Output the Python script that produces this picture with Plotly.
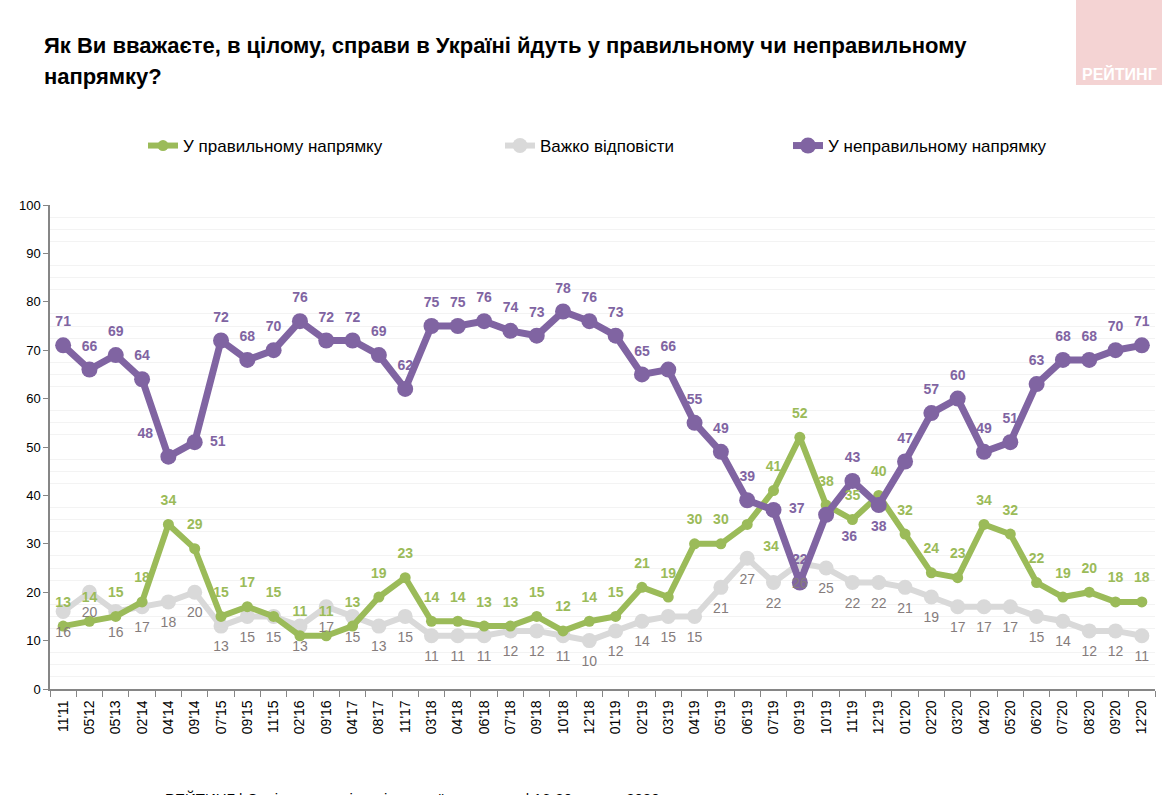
import plotly.graph_objects as go

categories = ["11'11", "05'12", "05'13", "02'14", "04'14", "09'14", "07'15", "09'15", "11'15", "02'16",
              "09'16", "04'17", "08'17", "11'17", "03'18", "04'18", "06'18", "07'18", "09'18", "10'18",
              "12'18", "01'19", "02'19", "03'19", "04'19", "05'19", "06'19", "07'19", "09'19", "10'19",
              "11'19", "12'19", "01'20", "02'20", "03'20", "04'20", "05'20", "06'20", "07'20", "08'20",
              "09'20", "12'20"]

right_dir = [13, 14, 15, 18, 34, 29, 15, 17, 15, 11, 11, 13, 19, 23, 14, 14, 13, 13, 15, 12, 14,
             15, 21, 19, 30, 30, 34, 41, 52, 38, 35, 40, 32, 24, 23, 34, 32, 22, 19, 20, 18, 18]
hard_say = [16, 20, 16, 17, 18, 20, 13, 15, 15, 13, 17, 15, 13, 15, 11, 11, 11, 12, 12, 11, 10,
            12, 14, 15, 15, 21, 27, 22, 26, 25, 22, 22, 21, 19, 17, 17, 17, 15, 14, 12, 12, 11]
wrong_dir = [71, 66, 69, 64, 48, 51, 72, 68, 70, 76, 72, 72, 69, 62, 75, 75, 76, 74, 73, 78, 76,
             73, 65, 66, 55, 49, 39, 37, 22, 36, 43, 38, 47, 57, 60, 49, 51, 63, 68, 68, 70, 71]

GREEN = "#9bbb59"
GREY = "#d9d9d9"
PURPLE = "#8064a2"
GREY_TXT = "#857c7c"
CLEAR = "rgba(0,0,0,0)"

n = len(categories)
pos_green = ["top center"] * n
pos_green[26] = "bottom right"
pos_grey = ["bottom center"] * n
pos_purple = ["top center"] * n
pos_purple[4] = "top left"
pos_purple[5] = "middle right"
pos_purple[27] = "middle right"
pos_purple[29] = "bottom right"
pos_purple[31] = "bottom center"

FONT = "Liberation Sans, Arial, sans-serif"

fig = go.Figure()
# lines + markers
fig.add_trace(go.Scatter(
    x=categories, y=hard_say, name="Важко відповісти", mode="lines+markers",
    line=dict(color=GREY, width=6), marker=dict(color=GREY, size=15), legend="legend2"))
fig.add_trace(go.Scatter(
    x=categories, y=right_dir, name="У правильному напрямку", mode="lines+markers",
    line=dict(color=GREEN, width=6), marker=dict(color=GREEN, size=11), legend="legend"))
fig.add_trace(go.Scatter(
    x=categories, y=wrong_dir, name="У неправильному напрямку", mode="lines+markers",
    line=dict(color=PURPLE, width=7), marker=dict(color=PURPLE, size=16), legend="legend3"))

# data labels (transparent markers set the label offset)
fig.add_trace(go.Scatter(
    x=categories, y=hard_say, mode="markers+text", showlegend=False, hoverinfo="skip",
    marker=dict(color=CLEAR, size=22),
    text=[str(v) for v in hard_say], textposition=pos_grey,
    textfont=dict(family=FONT, size=14, color=GREY_TXT)))
fig.add_trace(go.Scatter(
    x=categories, y=right_dir, mode="markers+text", showlegend=False, hoverinfo="skip",
    marker=dict(color=CLEAR, size=24),
    text=[str(v) for v in right_dir], textposition=pos_green,
    textfont=dict(family=FONT, size=14, color=GREEN, weight="bold")))
fig.add_trace(go.Scatter(
    x=categories, y=wrong_dir, mode="markers+text", showlegend=False, hoverinfo="skip",
    marker=dict(color=CLEAR, size=23),
    text=[str(v) for v in wrong_dir], textposition=pos_purple,
    textfont=dict(family=FONT, size=14, color=PURPLE, weight="bold")))

L, R, T, B = 50, 7, 205, 106
W, H = 1162, 795
pw = W - L - R
ph = H - T - B

def px(xp):
    return (xp - L) / pw

def py(yp):
    return (H - B - yp) / ph

leg_common = dict(orientation="h", yanchor="middle", xanchor="left", y=py(146),
                  font=dict(family=FONT, size=17, color="#000000"),
                  bgcolor="rgba(0,0,0,0)", itemwidth=30)

fig.update_layout(
    width=W, height=H,
    margin=dict(l=L, r=R, t=T, b=B),
    paper_bgcolor="white", plot_bgcolor="white",
    showlegend=True,
    legend=dict(leg_common, x=px(143)),
    legend2=dict(leg_common, x=px(500)),
    legend3=dict(leg_common, x=px(788)),
    font=dict(family=FONT, color="#000000"),
    xaxis=dict(
        type="category", range=[-0.5, n - 0.5], showgrid=False,
        showline=True, linecolor="#868686", linewidth=1.5,
        ticks="outside", tickson="boundaries", ticklen=6, tickcolor="#868686",
        tickangle=-90, ticklabelstandoff=4,
        tickfont=dict(family=FONT, size=14, color="#000000"),
    ),
    yaxis=dict(
        range=[0, 100], dtick=10, showgrid=False, zeroline=False,
        showline=True, linecolor="#868686", linewidth=1.5,
        ticks="outside", ticklen=5, tickcolor="#868686",
        tickfont=dict(family=FONT, size=13, color="#000000"),
        minor=dict(showgrid=True, gridcolor="#f3f3f3", dtick=2.5),
    ),
)

fig.add_annotation(
    text="<b>Як Ви вважаєте, в цілому, справи в Україні йдуть у правильному чи неправильному</b>",
    xref="paper", yref="paper", x=px(42), y=py(45), xanchor="left", yanchor="middle",
    showarrow=False, font=dict(family=FONT, size=22, color="#000000"))
fig.add_annotation(
    text="<b>напрямку?</b>",
    xref="paper", yref="paper", x=px(42), y=py(76), xanchor="left", yanchor="middle",
    showarrow=False, font=dict(family=FONT, size=22, color="#000000"))

# logo
fig.add_shape(type="rect", xref="paper", yref="paper",
              x0=px(1076), x1=px(1162), y0=py(85), y1=py(0),
              fillcolor="#f4d3d3", line=dict(width=0), layer="below")
fig.add_annotation(text="<b>РЕЙТИНГ</b>", xref="paper", yref="paper",
                   x=px(1119), y=py(74), xanchor="center", yanchor="middle",
                   showarrow=False, font=dict(family=FONT, size=16, color="#ffffff"))

# footer (cut off at the page edge, as in the source)
fig.add_annotation(text="РЕЙТИНГ | Соціально-політичні настрої населення | 16-20 грудня 2020",
                   xref="paper", yref="paper", x=px(163), y=py(788), xanchor="left", yanchor="top",
                   showarrow=False, font=dict(family=FONT, size=15, color="#000000"))

fig.write_html("out.html")
